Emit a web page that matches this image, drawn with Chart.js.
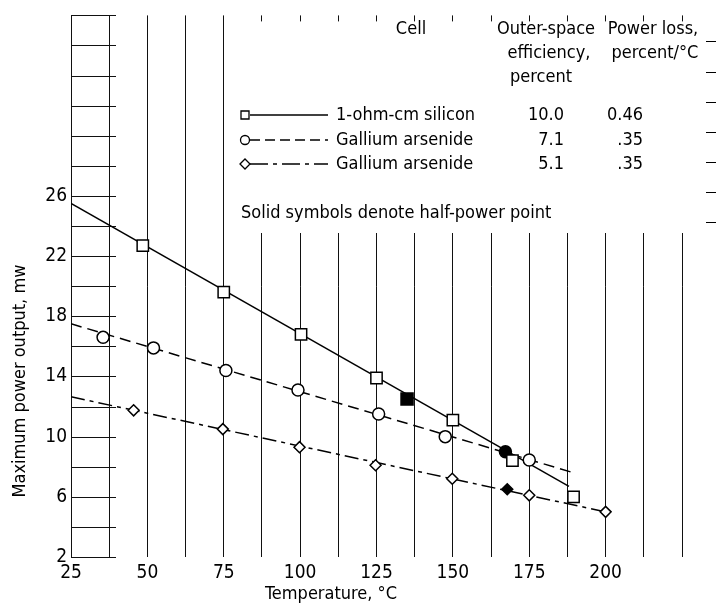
<!DOCTYPE html>
<html>
<head>
<meta charset="utf-8">
<script src="https://cdn.jsdelivr.net/npm/chart.js@4.4.0/dist/chart.umd.min.js"></script>
<style>
  body { margin: 0; background: #fff; }
  canvas { display: block; }
</style>
</head>
<body>
<canvas id="chart" width="719" height="605"></canvas>
<script>
// temperature (deg C) and max power output (mw)
const siliconTemp = [48.5, 75, 100.3, 125, 150, 169.5, 189.5];
const siliconPower = [22.7, 19.6, 16.8, 13.9, 11.1, 8.4, 6.0];
const siliconHalf = [135, 12.5];
const siliconFitTemp = [25, 188];
const siliconFitPower = [25.5, 6.7];

const gaas71Temp = [35.5, 52, 75.7, 99.3, 125.7, 147.5, 175];
const gaas71Power = [16.6, 15.9, 14.4, 13.1, 11.5, 10.0, 8.45];
const gaas71Half = [167.2, 9.0];
const gaas71FitTemp = [25, 189.5];
const gaas71FitPower = [17.5, 7.6];

const gaas51Temp = [45.5, 74.7, 99.8, 124.7, 149.8, 175, 200];
const gaas51Power = [11.75, 10.5, 9.3, 8.1, 7.2, 6.1, 5.0];
const gaas51Half = [167.8, 6.5];
const gaas51FitTemp = [25, 200];
const gaas51FitPower = [12.65, 5.0];

// key table
const cellNames = ['1-ohm-cm silicon', 'Gallium arsenide', 'Gallium arsenide'];
const efficiencies = ['10.0', '7.1', '5.1'];
const powerLoss = ['0.46', '.35', '.35'];

const xTickLabels = [25, 50, 75, 100, 125, 150, 175, 200];
const yTickLabels = [2, 6, 10, 14, 18, 22, 26];

const INK = '#000';
const TEXT_FONT = '18px "DejaVu Sans Condensed", "DejaVu Sans", sans-serif';

function pts(xs, ys) {
  return xs.map((t, i) => ({ x: t, y: ys[i] }));
}

function pointSet(label, xs, ys, style, radius, fill) {
  return {
    label: label,
    data: pts(xs, ys),
    showLine: false,
    pointStyle: style,
    pointRadius: radius,
    pointBorderWidth: 1.5,
    pointBorderColor: INK,
    pointBackgroundColor: fill,
    order: 0
  };
}

function fitLine(label, xs, ys, dash) {
  return {
    label: label,
    data: pts(xs, ys),
    showLine: true,
    borderColor: INK,
    borderWidth: 1.5,
    borderDash: dash,
    pointRadius: 0,
    order: 1
  };
}

function drawMarker(ctx, style, x, y) {
  ctx.beginPath();
  if (style === 'rect') {
    ctx.rect(x - 4, y - 4, 8, 8);
  } else if (style === 'circle') {
    ctx.arc(x, y, 4.5, 0, Math.PI * 2);
  } else {
    ctx.moveTo(x - 5, y); ctx.lineTo(x, y - 5); ctx.lineTo(x + 5, y); ctx.lineTo(x, y + 5); ctx.closePath();
  }
  ctx.fillStyle = '#fff';
  ctx.fill();
  ctx.stroke();
}

const paperPlugin = {
  id: 'paper',
  beforeDatasetsDraw(chart) {
    const { ctx, chartArea: a, scales: { y } } = chart;
    ctx.save();
    ctx.strokeStyle = '#111';
    ctx.lineWidth = 1;
    // short rules off the left axis
    y.ticks.forEach(t => {
      const py = Math.round(y.getPixelForValue(t.value)) + 0.5;
      ctx.beginPath();
      ctx.moveTo(a.left, py);
      ctx.lineTo(a.left + 45, py);
      ctx.stroke();
    });
    // blank panel behind the key
    ctx.fillStyle = '#fff';
    ctx.fillRect(236, a.top + 6, chart.width - 236, 233 - a.top - 6);
    ctx.restore();
  },
  afterDraw(chart) {
    const { ctx, scales: { y } } = chart;
    ctx.save();
    ctx.fillStyle = INK;
    ctx.strokeStyle = INK;
    ctx.font = TEXT_FONT;
    ctx.textBaseline = 'middle';

    // key header
    ctx.textAlign = 'center';
    ctx.fillText('Cell', 411, 29);
    ctx.fillText('Outer-space', 546, 29);
    ctx.fillText('efficiency,', 549, 53);
    ctx.fillText('percent', 541, 77);
    ctx.fillText('Power loss,', 653, 29);
    ctx.fillText('percent/\u00B0C', 655, 53);

    // key rows
    const rowY = [115, 140, 164];
    const styles = ['rect', 'circle', 'rectRot'];
    const dashes = [[], [10, 5], [18, 5, 4, 5]];
    rowY.forEach((ry, i) => {
      ctx.lineWidth = 1.3;
      ctx.setLineDash(dashes[i]);
      ctx.beginPath();
      ctx.moveTo(250, ry);
      ctx.lineTo(328, ry);
      ctx.stroke();
      ctx.setLineDash([]);
      drawMarker(ctx, styles[i], 245, ry);
      ctx.fillStyle = INK;
      ctx.textAlign = 'left';
      ctx.fillText(cellNames[i], 336, ry);
      ctx.textAlign = 'right';
      ctx.fillText(efficiencies[i], 564, ry);
      ctx.fillText(powerLoss[i], 643, ry);
    });
    ctx.textAlign = 'left';
    ctx.fillText('Solid symbols denote half-power point', 241, 213);

    // axis titles
    ctx.textAlign = 'center';
    ctx.fillText('Temperature, \u00B0C', 331, 594);
    ctx.save();
    ctx.translate(20, 381);
    ctx.rotate(-Math.PI / 2);
    ctx.fillText('Maximum power output, mw', 0, 0);
    ctx.restore();

    // stray rules at the right edge of the sheet
    ctx.lineWidth = 1;
    for (let v = 24; v <= 36; v += 2) {
      const py = Math.round(y.getPixelForValue(v)) - 3.5;
      ctx.beginPath();
      ctx.moveTo(706, py);
      ctx.lineTo(716, py);
      ctx.stroke();
    }
    ctx.restore();
  }
};

new Chart(document.getElementById('chart'), {
  type: 'scatter',
  data: {
    datasets: [
      pointSet('1-ohm-cm silicon', siliconTemp, siliconPower, 'rect', 8, '#fff'),
      pointSet('Gallium arsenide 7.1', gaas71Temp, gaas71Power, 'circle', 6, '#fff'),
      pointSet('Gallium arsenide 5.1', gaas51Temp, gaas51Power, 'rectRot', 5.5, '#fff'),
      pointSet('silicon half-power', [siliconHalf[0]], [siliconHalf[1]], 'rect', 8.5, INK),
      pointSet('GaAs 7.1 half-power', [gaas71Half[0]], [gaas71Half[1]], 'circle', 6, INK),
      pointSet('GaAs 5.1 half-power', [gaas51Half[0]], [gaas51Half[1]], 'rectRot', 5.5, INK),
      fitLine('silicon fit', siliconFitTemp, siliconFitPower, []),
      fitLine('GaAs 7.1 fit', gaas71FitTemp, gaas71FitPower, [11, 6]),
      fitLine('GaAs 5.1 fit', gaas51FitTemp, gaas51FitPower, [14, 5, 4, 5])
    ]
  },
  options: {
    responsive: false,
    animation: false,
    layout: { padding: { top: 11, right: 37, left: 0, bottom: 0 } },
    plugins: {
      legend: { display: false },
      tooltip: { enabled: false }
    },
    scales: {
      x: {
        type: 'linear',
        min: 25,
        max: 225,
        afterFit: s => { s.height = 48; },
        border: { display: false },
        grid: { color: '#111', lineWidth: 1, drawTicks: false },
        ticks: {
          stepSize: 12.5,
          padding: 5,
          maxRotation: 0,
          autoSkip: false,
          color: INK,
          font: { family: '"Liberation Sans Narrow", "DejaVu Sans Condensed", sans-serif', size: 19 },
          callback: v => xTickLabels.includes(v) ? String(v) : ''
        }
      },
      y: {
        type: 'linear',
        min: 2,
        max: 38,
        afterFit: s => { s.width = 71; },
        border: { display: false },
        grid: { display: false, drawTicks: false },
        ticks: {
          stepSize: 2,
          padding: 4,
          autoSkip: false,
          color: INK,
          font: { family: '"Liberation Sans Narrow", "DejaVu Sans Condensed", sans-serif', size: 19 },
          callback: v => yTickLabels.includes(v) ? String(v) : ''
        }
      }
    }
  },
  plugins: [paperPlugin]
});
</script>
</body>
</html>
